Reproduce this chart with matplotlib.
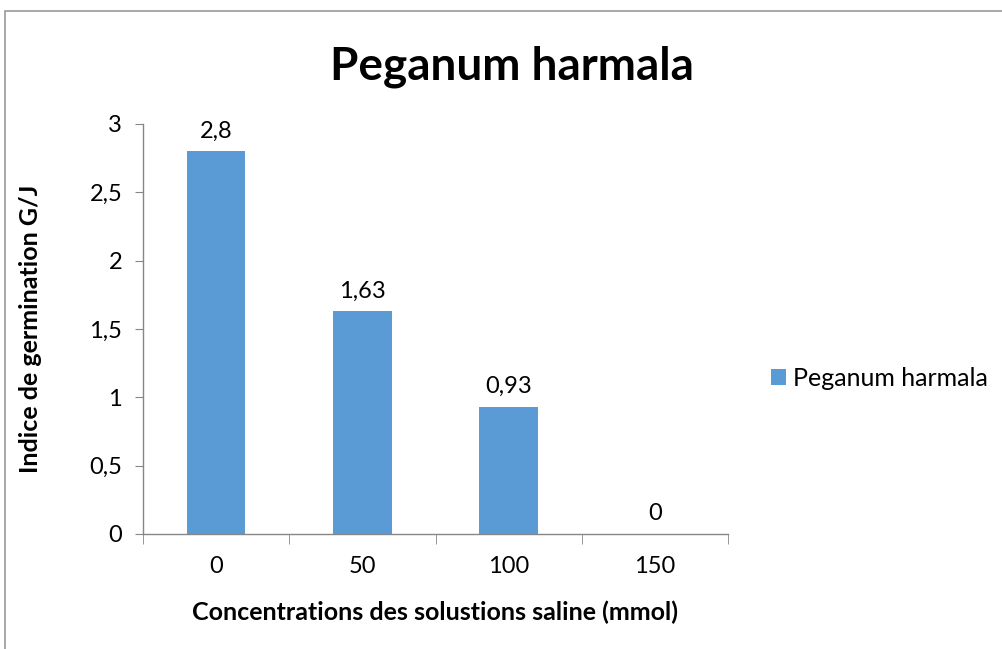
import matplotlib
matplotlib.use("Agg")
import matplotlib.pyplot as plt
from matplotlib.patches import Rectangle
import numpy as np

categories = ["0", "50", "100", "150"]
values = [2.8, 1.63, 0.93, 0]
value_labels = ["2,8", "1,63", "0,93", "0"]
yticks = [0, 0.5, 1, 1.5, 2, 2.5, 3]
ytick_labels = ["0", "0,5", "1", "1,5", "2", "2,5", "3"]
series_name = "Peganum harmala"

plt.rcParams['font.family'] = ['Lato', 'DejaVu Sans']

fig = plt.figure(figsize=(10.02, 6.49), dpi=100)
ax = fig.add_axes([143/1002, 1-534/649, (728-143)/1002, (534-124)/649])

x = np.arange(len(categories))
color = "#5B9BD5"
bars = ax.bar(x, values, width=0.4, color=color, label=series_name)
for xi, v, lab in zip(x, values, value_labels):
    ax.text(xi, v + 0.07, lab, ha="center", va="bottom", fontsize=17, color="#000000")

ax.set_xlim(-0.5, len(categories) - 0.5)
ax.set_ylim(0, 3)
ax.set_yticks(yticks)
ax.set_yticklabels(ytick_labels, fontsize=17)
ax.set_xticks(x)
ax.set_xticklabels(categories, fontsize=17)
ax.set_xticks(np.arange(-0.5, len(categories), 1), minor=True)
ax.tick_params(axis="x", which="major", length=0, pad=16)
ax.tick_params(axis="x", which="minor", length=7, color="#868686", direction="out")
ax.tick_params(axis="y", length=6, color="#868686", direction="out", pad=9)

for s in ["top", "right"]:
    ax.spines[s].set_visible(False)
for s in ["left", "bottom"]:
    ax.spines[s].set_color("#868686")
    ax.spines[s].set_linewidth(1)

ax.set_xlabel("Concentrations des solustions saline (mmol)", fontsize=18, fontweight="bold", labelpad=17)
ax.set_ylabel("Indice de germination G/J", fontsize=18, fontweight="bold", labelpad=34)

fig.text(512/1002, 1-67/649, "Peganum harmala", ha="center", va="center", fontsize=33, fontweight="bold")

leg = fig.legend(handles=[bars], labels=[series_name], loc="center left",
                 bbox_to_anchor=(748/1002, 1-378/649), frameon=False, fontsize=18,
                 handlelength=0.6, handleheight=0.6, handletextpad=0.3)

fig.patches.append(Rectangle((5/1002, -0.1), 1.2, 1 - 11/649 + 0.1, transform=fig.transFigure,
                             fill=False, edgecolor="#9a9a9a", linewidth=1.2))

fig.savefig("out.png", dpi=100)
